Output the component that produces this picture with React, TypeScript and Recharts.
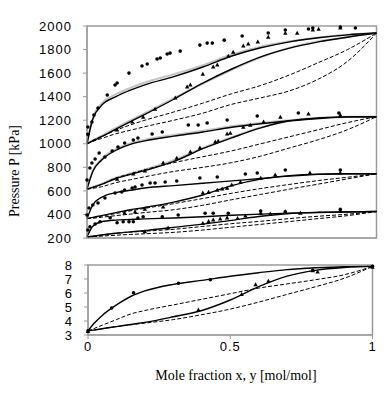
import React from 'react';
import { ComposedChart, Line, Scatter, XAxis, YAxis, ReferenceArea } from 'recharts';

// x grid for the model curves
const xs = [0, 0.02, 0.05, 0.1, 0.15, 0.2, 0.3, 0.4, 0.5, 0.6, 0.7, 0.8, 0.9, 1];

// top panel, pressure in kPa at xs
const bub1 = [1000, 1210, 1325, 1400, 1455, 1500, 1570, 1652, 1745, 1815, 1865, 1900, 1925, 1940];
const bub1Gray = [1000, 1218, 1340, 1420, 1475, 1520, 1590, 1668, 1758, 1824, 1870, 1903, 1926, 1940];
const dew1 = [1000, 1025, 1060, 1125, 1188, 1250, 1378, 1515, 1635, 1738, 1812, 1865, 1905, 1940];
const dew1Gray = [1000, 1028, 1066, 1135, 1198, 1260, 1388, 1510, 1628, 1734, 1816, 1870, 1908, 1940];
const dashU1 = [1000, 1030, 1060, 1115, 1160, 1200, 1270, 1345, 1425, 1495, 1585, 1690, 1800, 1940];
const dashL1 = [1000, 1020, 1045, 1085, 1115, 1145, 1200, 1260, 1335, 1390, 1450, 1550, 1700, 1940];

const bub2 = [615, 765, 860, 945, 995, 1025, 1065, 1100, 1140, 1170, 1195, 1215, 1228, 1230];
const bub2Gray = [615, 772, 870, 955, 1005, 1035, 1075, 1110, 1148, 1176, 1199, 1218, 1229, 1230];
const dew2 = [615, 630, 655, 705, 740, 772, 850, 958, 1050, 1135, 1195, 1220, 1228, 1230];
const dew2Gray = [615, 633, 660, 712, 748, 782, 860, 964, 1055, 1138, 1196, 1220, 1228, 1230];
const dashU2 = [615, 630, 655, 710, 745, 780, 840, 890, 940, 1000, 1060, 1120, 1180, 1230];
const dashL2 = [615, 622, 635, 670, 695, 720, 765, 800, 840, 895, 965, 1035, 1120, 1230];

const bub3 = [365, 480, 545, 585, 605, 625, 645, 665, 685, 705, 725, 740, 745, 745];
const dew3 = [365, 375, 390, 415, 440, 460, 505, 565, 645, 700, 730, 742, 745, 745];
const dashU3 = [365, 372, 385, 408, 430, 452, 492, 535, 580, 620, 655, 688, 716, 745];
const dashL3 = [365, 368, 376, 390, 403, 416, 440, 478, 525, 570, 615, 658, 702, 745];

const bub4 = [210, 300, 338, 352, 357, 362, 370, 380, 393, 403, 411, 417, 421, 425];
const dew4 = [210, 215, 225, 240, 252, 263, 290, 318, 350, 385, 408, 418, 422, 425];
const dashU4 = [210, 215, 225, 242, 250, 258, 274, 298, 322, 342, 365, 385, 402, 425];
const dashL4 = [210, 212, 216, 224, 230, 236, 248, 268, 292, 316, 340, 365, 390, 425];

// top panel, measured points
const dots1X = [0.003, 0.003, 0.017, 0.024, 0.038, 0.07, 0.097, 0.104, 0.145, 0.19, 0.208, 0.242, 0.253, 0.277, 0.287, 0.322, 0.39, 0.415, 0.433, 0.474, 0.536, 0.626, 0.685, 0.765, 0.78, 0.875, 0.927];
const dots1P = [1080, 1142, 1185, 1244, 1303, 1414, 1499, 1516, 1600, 1660, 1677, 1720, 1728, 1762, 1770, 1787, 1838, 1855, 1855, 1880, 1915, 1940, 1966, 1974, 1983, 1991, 1983];
const tri1X = [0.104, 0.156, 0.194, 0.235, 0.305, 0.346, 0.357, 0.4, 0.436, 0.45, 0.488, 0.505, 0.54, 0.557, 0.59, 0.626, 0.685, 0.726, 0.78, 0.8, 0.875];
const tri1P = [1117, 1185, 1227, 1295, 1389, 1482, 1499, 1592, 1652, 1669, 1745, 1779, 1830, 1847, 1864, 1906, 1940, 1940, 1966, 1974, 1983];

const dots2X = [0, 0.01, 0.017, 0.028, 0.042, 0.062, 0.087, 0.107, 0.13, 0.16, 0.176, 0.225, 0.26, 0.35, 0.384, 0.415, 0.484, 0.588, 0.73, 0.87];
const dots2P = [692, 794, 837, 871, 922, 888, 939, 973, 1006, 1032, 1049, 1083, 1100, 1159, 1159, 1176, 1202, 1236, 1261, 1261];
const tri2X = [0.104, 0.16, 0.2, 0.263, 0.31, 0.357, 0.39, 0.443, 0.453, 0.484, 0.495, 0.54, 0.564, 0.61, 0.668, 0.765, 0.875];
const tri2P = [700, 745, 770, 837, 879, 930, 964, 1015, 1023, 1083, 1091, 1142, 1159, 1185, 1227, 1253, 1244];

const dots3X = [0, 0.007, 0.02, 0.038, 0.062, 0.097, 0.12, 0.13, 0.156, 0.166, 0.19, 0.218, 0.235, 0.27, 0.31, 0.39, 0.45, 0.547, 0.588, 0.685, 0.875];
const dots3P = [395, 455, 480, 497, 540, 582, 590, 607, 624, 633, 650, 667, 667, 675, 684, 709, 718, 743, 752, 777, 777];
const tri3X = [0.13, 0.166, 0.2, 0.263, 0.4, 0.42, 0.45, 0.467, 0.484, 0.5, 0.53, 0.6, 0.65, 0.77, 0.875];
const tri3P = [412, 421, 446, 463, 582, 590, 607, 616, 624, 650, 675, 709, 735, 752, 752];

const dots4X = [0.003, 0.01, 0.028, 0.045, 0.08, 0.104, 0.125, 0.145, 0.16, 0.176, 0.194, 0.26, 0.315, 0.408, 0.436, 0.488, 0.6, 0.685, 0.875];
const dots4P = [268, 296, 319, 338, 372, 330, 338, 338, 338, 370, 381, 381, 395, 410, 410, 410, 429, 423, 443];
const tri4X = [0.2, 0.28, 0.4, 0.42, 0.436, 0.46, 0.484, 0.52, 0.547, 0.6, 0.633, 0.685, 0.737, 0.875];
const tri4P = [254, 285, 325, 340, 353, 362, 370, 367, 387, 410, 404, 423, 410, 432];

// bottom panel
const bub5 = [3.3, 3.8, 4.4, 5.15, 5.75, 6.15, 6.62, 6.9, 7.2, 7.45, 7.67, 7.8, 7.88, 7.9];
const dew5 = [3.3, 3.35, 3.45, 3.6, 3.75, 3.9, 4.3, 4.75, 5.5, 6.45, 7.2, 7.62, 7.82, 7.9];
const dashU5 = [3.3, 3.45, 3.7, 4.1, 4.5, 4.75, 5.15, 5.55, 5.95, 6.35, 6.65, 6.95, 7.3, 7.9];
const dashL5 = [3.3, 3.35, 3.45, 3.6, 3.73, 3.85, 4.1, 4.45, 4.85, 5.35, 5.9, 6.45, 7.05, 7.9];
const dots5X = [0, 0.083, 0.16, 0.318, 0.43, 0.79, 1];
const dots5P = [3.3, 4.93, 6.02, 6.7, 6.95, 7.62, 7.9];
const tri5X = [0, 0.388, 0.54, 0.589, 0.634, 0.79, 0.807, 1];
const tri5P = [3.25, 4.8, 5.9, 6.6, 6.84, 7.6, 7.5, 7.85];

const topTicks = [200, 400, 600, 800, 1000, 1200, 1400, 1600, 1800, 2000];
const bottomTicks = [3, 4, 5, 6, 7, 8];
const xTicks = [0, 0.5, 1];

const curve = (vals: number[]) => xs.map((x, i) => ({ x, p: vals[i] }));
const pts = (xv: number[], pv: number[]) => xv.map((x, i) => ({ x, p: pv[i] }));

const sans = '"Liberation Sans", Arial, sans-serif';
const serif = '"Liberation Serif", "Times New Roman", serif';
const axisGray = '#9a9a9a';

const Dot = (props: any) => <circle cx={props.cx} cy={props.cy} r={1.8} fill="#000" />;
const Tri = (props: any) => {
    const { cx, cy } = props;
    return <path d={`M${cx},${cy - 2.4} L${cx + 2.2},${cy + 1.6} L${cx - 2.2},${cy + 1.6} Z`} fill="#000" />;
};

const YTitle = () => (
    <text x={14} y={171} transform="rotate(-90 14 171)" textAnchor="middle" dominantBaseline="central"
        fontFamily={serif} fontSize={14} fill="#000">
        Pressure P [kPa]
    </text>
);

const XTitle = () => (
    <text x={236} y={125} textAnchor="middle" dominantBaseline="central" fontFamily={serif} fontSize={14} fill="#000">
        Mole fraction x, y [mol/mol]
    </text>
);

const tickStyle = { fontFamily: sans, fontSize: 13, fill: '#000', letterSpacing: 1 };

const solidLine = (vals: number[], key: string) => (
    <Line key={key} data={curve(vals)} dataKey="p" type="monotone" stroke="#000" strokeWidth={1.4}
        dot={false} activeDot={false} isAnimationActive={false} />
);
const grayLine = (vals: number[], key: string) => (
    <Line key={key} data={curve(vals)} dataKey="p" type="monotone" stroke="#c4c4c4" strokeWidth={2}
        dot={false} activeDot={false} isAnimationActive={false} />
);
const dashedLine = (vals: number[], key: string) => (
    <Line key={key} data={curve(vals)} dataKey="p" type="monotone" stroke="#000" strokeWidth={1}
        strokeDasharray="4 2" dot={false} activeDot={false} isAnimationActive={false} />
);

const TopPanel = () => (
    <ComposedChart width={390} height={250} margin={{ top: 26, right: 13.5, bottom: 0, left: 0 }}>
        <XAxis dataKey="x" type="number" domain={[0, 1]} ticks={[0.5]} tick={false} height={12}
            axisLine={{ stroke: axisGray }} tickLine={{ stroke: axisGray }} tickSize={4} />
        <YAxis dataKey="p" type="number" domain={[200, 2000]} ticks={topTicks} width={87} interval={0}
            axisLine={{ stroke: axisGray }} tickLine={{ stroke: axisGray }} tickSize={4} tickMargin={11}
            tick={tickStyle} label={<YTitle />} />
        <ReferenceArea x1={0} x2={1} y1={200} y2={2000} fill="none" stroke={axisGray} strokeWidth={1.5} ifOverflow="visible" />
        {[bub1Gray, dew1Gray, bub2Gray, dew2Gray].map((v, i) => grayLine(v, 'g' + i))}
        {[dashU1, dashL1, dashU2, dashL2, dashU3, dashL3, dashU4, dashL4].map((v, i) => dashedLine(v, 'd' + i))}
        {[bub1, dew1, bub2, dew2, bub3, dew3, bub4, dew4].map((v, i) => solidLine(v, 's' + i))}
        {[[dots1X, dots1P], [dots2X, dots2P], [dots3X, dots3P], [dots4X, dots4P]].map((d, i) => (
            <Scatter key={'p' + i} data={pts(d[0], d[1])} dataKey="p" shape={Dot} isAnimationActive={false} />
        ))}
        {[[tri1X, tri1P], [tri2X, tri2P], [tri3X, tri3P], [tri4X, tri4P]].map((d, i) => (
            <Scatter key={'t' + i} data={pts(d[0], d[1])} dataKey="p" shape={Tri} isAnimationActive={false} />
        ))}
    </ComposedChart>
);

const BottomPanel = () => (
    <ComposedChart width={390} height={153} margin={{ top: 15, right: 17.5, bottom: 0, left: 0 }}>
        <XAxis dataKey="x" type="number" domain={[0, 1]} ticks={xTicks} height={68} interval={0}
            axisLine={{ stroke: axisGray }} tickLine={{ stroke: axisGray }} tickSize={4} tickMargin={2.5}
            tick={tickStyle} tickFormatter={(v) => String(v)} label={<XTitle />} />
        <YAxis dataKey="p" type="number" domain={[3, 8]} ticks={bottomTicks} width={88} interval={0}
            axisLine={{ stroke: axisGray }} tickLine={{ stroke: axisGray }} tickSize={4} tickMargin={11}
            tick={tickStyle} />
        <ReferenceArea x1={0} x2={1} y1={3} y2={8} fill="none" stroke={axisGray} strokeWidth={1.5} ifOverflow="visible" />
        {dashedLine(dashU5, 'du')}
        {dashedLine(dashL5, 'dl')}
        {solidLine(bub5, 'sb')}
        {solidLine(dew5, 'sd')}
        <Scatter data={pts(dots5X, dots5P)} dataKey="p" shape={Dot} isAnimationActive={false} />
        <Scatter data={pts(tri5X, tri5P)} dataKey="p" shape={Tri} isAnimationActive={false} />
    </ComposedChart>
);

export default function App() {
    return (
        <div style={{ position: 'absolute', left: 0, top: 0, width: 390, height: 403, background: '#fff' }}>
            <div style={{ position: 'absolute', left: 0, top: 0 }}>
                <TopPanel />
            </div>
            <div style={{ position: 'absolute', left: 0, top: 250 }}>
                <BottomPanel />
            </div>
        </div>
    );
}
